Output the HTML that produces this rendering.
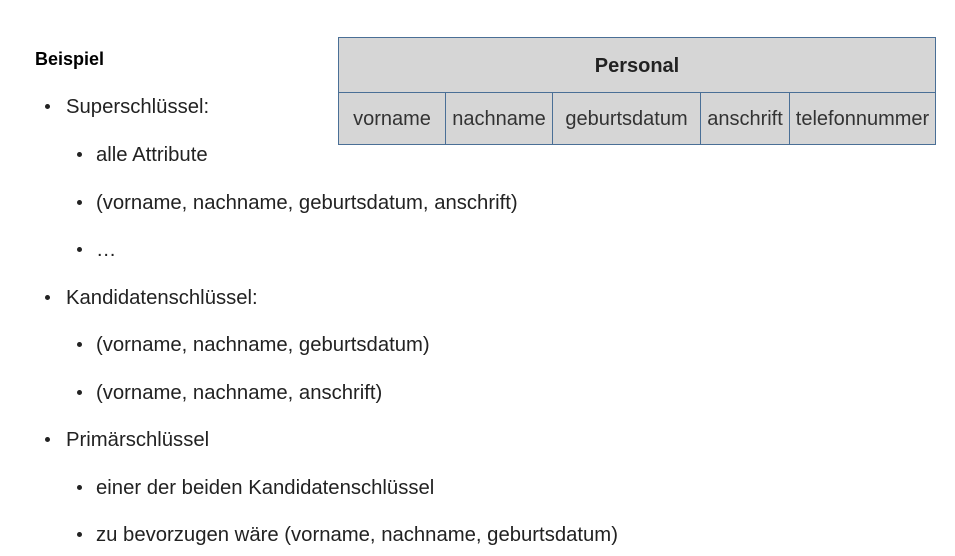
<!DOCTYPE html>
<html><head><meta charset="utf-8"><style>
body{margin:0;width:955px;height:556px;background:#fff;position:relative;font-family:"Liberation Sans",sans-serif;color:#222;overflow:hidden}
.t{position:absolute;font-size:20.3px;white-space:nowrap;line-height:24px}
.b{position:absolute;width:5px;height:5px;border-radius:50%;background:#222}
#tbl{position:absolute;left:338px;top:37px;width:598px;height:108px;background:#d6d6d6;border:1px solid #4a6f96;box-sizing:border-box}
.h{position:absolute;left:0;right:0;top:0;height:54px;line-height:57px;text-align:center;font-weight:bold;font-size:20px;border-bottom:1px solid #4a6f96}
.c{position:absolute;top:54px;height:52px;line-height:54px;text-align:center;font-size:20px;border-right:1px solid #4a6f96;color:#333}
</style></head><body>
<div class="t" style="left:35px;top:47px;font-weight:bold;font-size:18px;color:#000">Beispiel</div>

<div class="b" style="left:45px;top:104px"></div><div class="t" style="left:66px;top:95px">Superschlüssel:</div>
<div class="b" style="left:77px;top:152px"></div><div class="t" style="left:96px;top:143px">alle Attribute</div>
<div class="b" style="left:77px;top:200px"></div><div class="t" style="left:96px;top:191px">(vorname, nachname, geburtsdatum, anschrift)</div>
<div class="b" style="left:77px;top:247px"></div><div class="t" style="left:96px;top:238px">…</div>
<div class="b" style="left:45px;top:295px"></div><div class="t" style="left:66px;top:286px">Kandidatenschlüssel:</div>
<div class="b" style="left:77px;top:342px"></div><div class="t" style="left:96px;top:333px">(vorname, nachname, geburtsdatum)</div>
<div class="b" style="left:77px;top:390px"></div><div class="t" style="left:96px;top:381px">(vorname, nachname, anschrift)</div>
<div class="b" style="left:45px;top:437px"></div><div class="t" style="left:66px;top:428px">Primärschlüssel</div>
<div class="b" style="left:77px;top:485px"></div><div class="t" style="left:96px;top:476px">einer der beiden Kandidatenschlüssel</div>
<div class="b" style="left:77px;top:532px"></div><div class="t" style="left:96px;top:523px">zu bevorzugen wäre (vorname, nachname, geburtsdatum)</div>

<div id="tbl">
<div class="h">Personal</div>
<div class="c" style="left:0;width:106px">vorname</div>
<div class="c" style="left:107px;width:106px">nachname</div>
<div class="c" style="left:214px;width:147px">geburtsdatum</div>
<div class="c" style="left:362px;width:88px">anschrift</div>
<div class="c" style="left:451px;width:145px;border-right:none">telefonnummer</div>
</div>
</body></html>
